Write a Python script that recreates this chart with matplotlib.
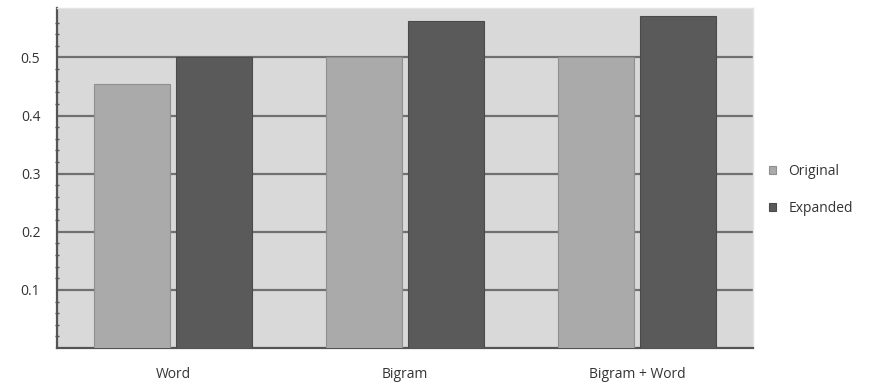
"""
Original vs expanded feature sets, grouped bar chart
"""

import matplotlib.pyplot as plt
import numpy as np


categories = ["Word", "Bigram", "Bigram + Word"]
original = [0.455, 0.50, 0.50]
expanded = [0.50, 0.562, 0.572]
series_names = ["Original", "Expanded"]
y_ticks = [0.1, 0.2, 0.3, 0.4, 0.5]


def main():
    plt.rcParams["font.family"] = ["Open Sans", "DejaVu Sans"]

    fig = plt.figure(figsize=(8.77, 3.82), dpi=100)
    ax = fig.add_axes([0.065, 0.089, 0.7935, 0.89])

    x = np.arange(len(categories))
    width = 0.325
    offset = 0.177

    ax.set_facecolor("#d9d9d9")
    ax.bar(x - offset, original, width, color="#aaaaaa",
           edgecolor="#8f8f8f", linewidth=0.8, label=series_names[0], zorder=3)
    ax.bar(x + offset, expanded, width, color="#5a5a5a",
           edgecolor="#4a4a4a", linewidth=0.8, label=series_names[1], zorder=3)

    ax.set_xlim(-0.5, 2.5)
    ax.set_ylim(0, 0.585)
    ax.set_xticks(x)
    ax.set_xticklabels(categories)
    ax.set_yticks(y_ticks)
    ax.set_yticklabels([f"{v:.1f}" for v in y_ticks])
    ax.set_yticks(np.arange(0.02, 0.58, 0.02), minor=True)

    ax.yaxis.grid(True, color="#707070", linewidth=1.6, zorder=1)
    ax.set_axisbelow(True)

    for side in ["top", "right"]:
        ax.spines[side].set_color("#e4e4e4")
        ax.spines[side].set_linewidth(1.0)
    for side in ["left", "bottom"]:
        ax.spines[side].set_color("#555555")
        ax.spines[side].set_linewidth(1.6)

    ax.tick_params(axis="x", length=0, pad=14, labelsize=10,
                   labelcolor="#333333")
    ax.tick_params(axis="y", which="major", length=0, pad=12, labelsize=10,
                   labelcolor="#333333")
    ax.tick_params(axis="y", which="minor", length=3, width=1.0,
                   direction="inout", color="#555555")

    ax.legend(loc="center left", bbox_to_anchor=(1.005, 0.465),
              frameon=False, fontsize=10, handlelength=0.5,
              handleheight=0.5, handletextpad=0.9, labelspacing=1.6,
              labelcolor="#333333")

    fig.savefig("out.png", dpi=100, facecolor="white")


if __name__ == "__main__":
    main()
